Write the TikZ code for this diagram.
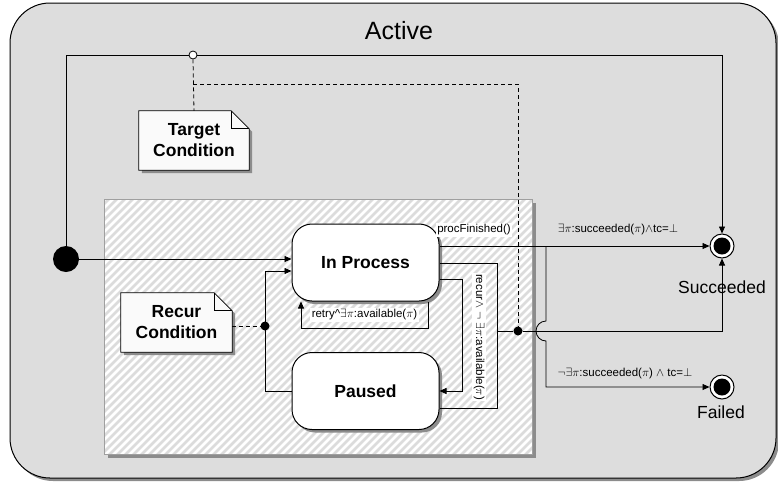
\documentclass[tikz,border=0pt]{standalone}
\usepackage{fontspec}
\setmainfont{Liberation Sans}
\usetikzlibrary{arrows.meta,calc,shadows}
\definecolor{activefill}{RGB}{221,221,221}
\definecolor{hatchgray}{RGB}{220,220,220}
\definecolor{shadowgray}{RGB}{140,140,140}
\definecolor{notefill}{RGB}{250,250,250}
\begin{document}
\begin{tikzpicture}[x=1pt,y=-1pt,
  conn/.style={line width=0.8pt},
  tr/.style={conn,-{Triangle[length=7pt,width=6pt]}},
  dashline/.style={conn,dash pattern=on 4pt off 3pt},
  statebox/.style={draw,line width=1pt,fill=white,rounded corners=20pt,
    minimum width=147pt,minimum height=77pt,inner sep=0pt,
    font=\fontsize{17.5}{20}\selectfont\bfseries,
    drop shadow={shadow xshift=3pt,shadow yshift=-3pt,fill=shadowgray,opacity=1}},
  notearea/.style={inner sep=0pt},
  notetext/.style={align=center,font=\fontsize{17.5}{21}\selectfont\bfseries},
  lbl/.style={inner sep=1.5pt,font=\fontsize{11.5}{13}\selectfont},
  bigtext/.style={inner sep=0pt,font=\fontsize{17.5}{20}\selectfont},
  initst/.style={circle,fill=black,minimum size=26pt,inner sep=0pt},
  finalst/.style={circle,draw,line width=1pt,fill=white,minimum size=24pt,inner sep=0pt,
    path picture={\fill[black] (path picture bounding box.center) circle (8.5pt);}},
  jdot/.style={circle,fill=black,minimum size=9pt,inner sep=0pt},
  odot/.style={circle,draw,line width=0.8pt,fill=white,minimum size=8pt,inner sep=0pt}
]
\useasboundingbox (0,0) rectangle (778,483);

% composite state "Active"
\fill[shadowgray,rounded corners=40pt] (13,6) rectangle (779,481);
\draw[line width=1pt,fill=activefill,rounded corners=40pt] (10,3) rectangle (776,478);
\node[inner sep=0pt,font=\fontsize{25}{28}\selectfont] (title) at (399,31) {Active};

% hatched region
\fill[shadowgray] (108,454) rectangle (536,458);
\fill[shadowgray] (532,203) rectangle (536,458);
\begin{scope}
  \clip (104,199) rectangle (532,454);
  \fill[white] (104,199) rectangle (532,454);
  \foreach \k in {-272,-264,...,440}
    \draw[hatchgray,line width=2.6pt] (104+\k,460) -- ++(270,-270);
\end{scope}
\draw[gray!75,line width=0.8pt] (104,199) rectangle (532,454);

% states
\node[statebox] (ip) at (365.5,262.5) {In Process};
\node[statebox] (pa) at (365.5,391) {Paused};
\node[initst] (init) at (66,259) {};
\node[finalst] (succ) at (722,246) {};
\node[finalst] (fail) at (722,387) {};
\node[bigtext] (succlbl) at (722,287) {Succeeded};
\node[bigtext] (faillbl) at (721,412) {Failed};

% junctions
\node[odot] (tcdot) at (193,55) {};
\node[jdot] (j1) at (265,326) {};
\node[jdot] (j2) at (518,331) {};

% notes with folded corner
\node[notearea,minimum width=110pt,minimum height=59pt] (tnote) at (194,140.5) {};
\node[notearea,minimum width=111pt,minimum height=59pt] (rnote) at (176.5,322.5) {};
\foreach \n in {tnote,rnote}{
  \fill[shadowgray] ($(\n.north west)+(3,3)$) -- ($(\n.north east)+(-15,3)$) -- ($(\n.north east)+(3,21)$)
     -- ($(\n.south east)+(3,3)$) -- ($(\n.south west)+(3,3)$) -- cycle;
  \draw[line width=0.8pt,fill=notefill] (\n.north west) -- ($(\n.north east)+(-18,0)$) -- ($(\n.north east)+(0,18)$)
     -- (\n.south east) -- (\n.south west) -- cycle;
  \draw[line width=0.8pt] ($(\n.north east)+(-18,0)$) -- ($(\n.north east)+(-18,18)$) -- ($(\n.north east)+(0,18)$);
}
\node[notetext] (tnotetxt) at (tnote) {Target\\Condition};
\node[notetext] (rnotetxt) at (rnote) {Recur\\Condition};

% target condition: from the initial point over the top to Succeeded
\draw[conn] (init.north) |- (tcdot.west);
\draw[tr] (tcdot.east) -| (succ.north);
\draw[dashline] (tcdot.south) -- (tnote.north);
\coordinate (tcb) at (193,84);
\draw[dashline] (tcb) -| (j2.north);

% initial transition
\draw[tr] (init.east) -- (init -| ip.west);

% Paused back to In Process, with the recur condition attached
\coordinate (rj) at (265,271);
\draw[tr] (pa.west) -| (rj) -- (ip.west |- rj);
\draw[dashline] (rnote.east |- j1) -- (j1.west);

% retry self loop
\coordinate (rr) at (428,328);
\coordinate (rl) at (301,328);
\draw[tr] (ip.south -| rr) -- (rr) -- (rl) -- (ip.south -| rl);
\node[lbl,fill=white] (retrylbl) at (364.5,315) {retry\textasciicircum$\exists\pi$:available($\pi$)};

% In Process to Paused
\coordinate (a1) at (462,279);
\coordinate (a2) at (462,391);
\draw[tr] (ip.east |- a1) -- (a1) -- (a2) -- (pa.east |- a2);

% both states to Succeeded through the target-condition junction
\coordinate (b1) at (497,263);
\coordinate (b2) at (497,408);
\coordinate (b3) at (497,331);
\draw[conn] (ip.east |- b1) -- (b1) -- (b2) -- (pa.east |- b2);
\draw[conn] (b3) -- (j2);
\draw[tr] (j2) -- (succ.south |- j2) -- (succ.south);
\node[lbl,fill=white,rotate=-90] (recurlbl) at (479,337) {recur$\wedge$ $\neg$ $\exists\pi$:available($\pi$)};

% procFinished: to Succeeded or to Failed
\coordinate (c1) at (546,246);
\coordinate (c2) at (546,321);
\draw[tr] (ip.east |- succ) -- (succ.west);
\draw[tr] (c1) -- (c2) arc[start angle=270,end angle=90,radius=10] -- (c2 |- fail) -- (fail.west);
\node[lbl,fill=white] (proclbl) at (474,230) {procFinished()};
\node[lbl] (succcond) at (618,230) {$\exists\pi$:succeeded($\pi$)$\wedge$tc=$\perp$};
\node[lbl] (failcond) at (625,374) {$\neg\exists\pi$:succeeded($\pi$) $\wedge$ tc=$\perp$};
\end{tikzpicture}
\end{document}
